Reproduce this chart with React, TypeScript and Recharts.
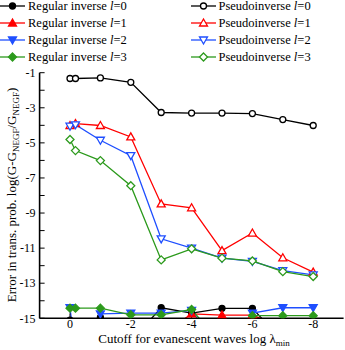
import { LineChart, Line, XAxis, YAxis, Legend, Label } from 'recharts'

// log10 of the evanescent-wave cutoff
const cutoffs = [0, -0.18, -1, -2, -3, -4, -5, -6, -7, -8]

// log error values (values below -15 run off the frame)
const regular0 = [-15.1, -17, -14.95, -16.3, -14.4, -14.7, -14.43, -14.43, -16.3, -16.5]
const regular1 = [-16, -16.5, -16.5, -17, -15.95, -14.75, -14.82, -14.82, -15.5, -16.5]
const regular2 = [-14.4, -17, -14.75, -14.7, -14.7, -14.55, -17, -14.7, -14.4, -14.4]
const regular3 = [-14.42, -14.42, -14.42, -14.8, -14.8, -14.5, -16.5, -14.85, -14.85, -14.85]
const pseudo0 = [-1.33, -1.33, -1.3, -1.55, -3.27, -3.3, -3.3, -3.33, -3.67, -4.01]
const pseudo1 = [-4.02, -3.9, -4.01, -4.66, -8.48, -8.7, -11.14, -10.14, -11.55, -12.37]
const pseudo2 = [-4.05, -3.97, -4.85, -5.73, -10.47, -11.0, -11.57, -11.76, -12.28, -12.53]
const pseudo3 = [-4.81, -5.44, -6.01, -7.44, -11.67, -11.04, -11.57, -11.73, -12.34, -12.62]

const xTicks = [0, -1, -2, -3, -4, -5, -6, -7, -8]
const yTicks = [-15, -14, -13, -12, -11, -10, -9, -8, -7, -6, -5, -4, -3, -2, -1]

const BLACK = '#000000'
const RED = '#ff0000'
const BLUE = '#1f4fff'
const GREEN = '#2c9a1c'
const FONT = '"Liberation Serif", "Times New Roman", serif'

type Shape = 'circle' | 'up' | 'down' | 'diamond'

interface Series {
    key: string
    kind: string
    l: number
    color: string
    shape: Shape
    filled: boolean
    values: number[]
}

const series: Series[] = [
    { key: 'r0', kind: 'Regular inverse', l: 0, color: BLACK, shape: 'circle', filled: true, values: regular0 },
    { key: 'p0', kind: 'Pseudoinverse', l: 0, color: BLACK, shape: 'circle', filled: false, values: pseudo0 },
    { key: 'r1', kind: 'Regular inverse', l: 1, color: RED, shape: 'up', filled: true, values: regular1 },
    { key: 'p1', kind: 'Pseudoinverse', l: 1, color: RED, shape: 'up', filled: false, values: pseudo1 },
    { key: 'r2', kind: 'Regular inverse', l: 2, color: BLUE, shape: 'down', filled: true, values: regular2 },
    { key: 'p2', kind: 'Pseudoinverse', l: 2, color: BLUE, shape: 'down', filled: false, values: pseudo2 },
    { key: 'r3', kind: 'Regular inverse', l: 3, color: GREEN, shape: 'diamond', filled: true, values: regular3 },
    { key: 'p3', kind: 'Pseudoinverse', l: 3, color: GREEN, shape: 'diamond', filled: false, values: pseudo3 },
]

const data = cutoffs.map((x, i) => {
    const row: Record<string, number> = { x }
    series.forEach(s => { row[s.key] = s.values[i] })
    return row
})

function Marker({ cx, cy, shape, filled, color }: { cx: number, cy: number, shape: Shape, filled: boolean, color: string }) {
    const fill = filled ? color : '#ffffff'
    const sw = 1.3
    if (shape === 'circle') {
        return <circle cx={cx} cy={cy} r={3} fill={fill} stroke={color} strokeWidth={sw} />
    }
    let pts = ''
    if (shape === 'up') {
        pts = `${cx},${cy - 4} ${cx + 4},${cy + 3} ${cx - 4},${cy + 3}`
    } else if (shape === 'down') {
        pts = `${cx},${cy + 4} ${cx + 4},${cy - 3} ${cx - 4},${cy - 3}`
    } else {
        pts = `${cx},${cy - 4} ${cx + 4},${cy} ${cx},${cy + 4} ${cx - 4},${cy}`
    }
    return <polygon points={pts} fill={fill} stroke={color} strokeWidth={sw} />
}

const renderLegend = () => (
    <div style={{ position: 'relative', width: 345, height: 66, fontFamily: FONT, fontSize: 12.5 }}>
        {series.map((s, i) => {
            const col = i % 2
            const row = Math.floor(i / 2)
            const left = col === 0 ? 0 : 190.5
            const top = 6 + row * 17.1
            return (
                <div key={s.key} style={{ position: 'absolute', left, top: top - 8, height: 16, display: 'flex', alignItems: 'center', whiteSpace: 'nowrap' }}>
                    <svg width={26} height={16} style={{ display: 'block' }}>
                        <line x1={0} y1={8} x2={25} y2={8} stroke={s.color} strokeWidth={1.3} />
                        <Marker cx={12.5} cy={8} shape={s.shape} filled={s.filled} color={s.color} />
                    </svg>
                    <span style={{ marginLeft: 2, color: '#000' }}>
                        {s.kind} <i>l</i>={s.l}
                    </span>
                </div>
            )
        })}
    </div>
)

const yTitle = () => (
    <text x={16} y={195} transform="rotate(-90 16 195)" textAnchor="middle" fontFamily={FONT} fontSize={13} fill="#000">
        Error in trans. prob. log(G-G<tspan dy={3} fontSize={9}>NEGF</tspan>
        <tspan dy={-3}>/G</tspan><tspan dy={3} fontSize={9}>NEGF</tspan><tspan dy={-3}>)</tspan>
    </text>
)

const xTitle = () => (
    <text x={194} y={343} textAnchor="middle" fontFamily={FONT} fontSize={13} fill="#000">
        Cutoff for evanescent waves log λ<tspan dy={3} fontSize={9}>min</tspan>
    </text>
)

const noLabel = () => ''

export default function App() {
    const axisLine = { stroke: '#000', strokeWidth: 1.6 }
    const tickLine = { stroke: '#000', strokeWidth: 1 }
    const tickStyle = { fontFamily: FONT, fontSize: 12, fill: '#000' }
    return (
        <div style={{ position: 'absolute', left: 0, top: 0, width: 345, height: 350, background: '#fff' }}>
            <LineChart width={345} height={350} data={data} margin={{ top: 72.7, right: 1.4, bottom: 1.7, left: 0.6 }}>
                <XAxis
                    dataKey="x"
                    type="number"
                    domain={[-9, 1]}
                    reversed
                    allowDataOverflow
                    ticks={xTicks}
                    interval={0}
                    height={30}
                    axisLine={axisLine}
                    tickLine={tickLine}
                    tickSize={-5}
                    tickMargin={6}
                    tick={tickStyle}
                    tickFormatter={(v: number) => (v % 2 === 0 ? String(v) : '')}
                >
                    <Label content={xTitle} />
                </XAxis>
                <XAxis
                    xAxisId="top"
                    dataKey="x"
                    orientation="top"
                    type="number"
                    domain={[-9, 1]}
                    reversed
                    allowDataOverflow
                    ticks={xTicks}
                    interval={0}
                    height={0}
                    mirror
                    axisLine={axisLine}
                    tickLine={tickLine}
                    tickSize={5}
                    tick={{ fontSize: 1, fill: 'none' }}
                    tickFormatter={noLabel}
                />
                <YAxis
                    type="number"
                    domain={[-15, -1]}
                    allowDataOverflow
                    ticks={yTicks}
                    interval={0}
                    width={39}
                    axisLine={axisLine}
                    tickLine={tickLine}
                    tickSize={-5}
                    tickMargin={9}
                    tick={tickStyle}
                    tickFormatter={(v: number) => (Math.abs(v) % 2 === 1 ? String(v) : '')}
                >
                    <Label content={yTitle} />
                </YAxis>
                <YAxis
                    yAxisId="right"
                    orientation="right"
                    type="number"
                    domain={[-15, -1]}
                    allowDataOverflow
                    ticks={yTicks}
                    interval={0}
                    width={0}
                    mirror
                    axisLine={axisLine}
                    tickLine={tickLine}
                    tickSize={5}
                    tick={{ fontSize: 1, fill: 'none' }}
                    tickFormatter={noLabel}
                />
                <Legend
                    verticalAlign="middle"
                    layout="horizontal"
                    width={345}
                    wrapperStyle={{ top: 0, left: 0 }}
                    content={renderLegend}
                />
                {series.map(s => (
                    <Line
                        key={s.key}
                        dataKey={s.key}
                        type="linear"
                        stroke={s.color}
                        strokeWidth={1.3}
                        isAnimationActive={false}
                        dot={(p: any) => (
                            <Marker key={`${s.key}-${p.index}`} cx={p.cx} cy={p.cy} shape={s.shape} filled={s.filled} color={s.color} />
                        )}
                        activeDot={false}
                    />
                ))}
            </LineChart>
        </div>
    )
}
